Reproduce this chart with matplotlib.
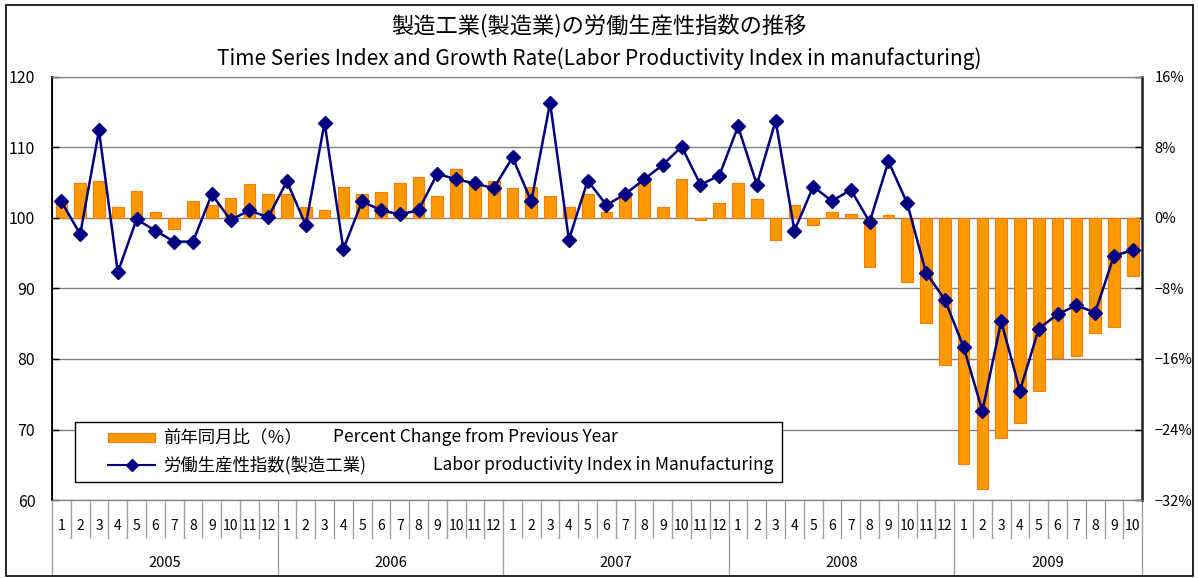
import numpy as np
import matplotlib
matplotlib.use('Agg')
import matplotlib.pyplot as plt
import matplotlib.transforms as mtransforms
from matplotlib.patches import Rectangle

plt.rcParams['font.family'] = ['Noto Sans CJK JP', 'DejaVu Sans']

years = ['2005', '2006', '2007', '2008', '2009']
months_per_year = [12, 12, 12, 12, 10]

# labor productivity index (left axis)
index = [102.35, 97.68, 112.42, 92.29, 99.80, 98.20, 96.64, 96.64, 103.35, 99.70, 101.08, 100.09,
         105.19, 98.99, 113.51, 95.59, 102.35, 101.08, 100.51, 101.08, 106.28, 105.47, 104.90, 104.20,
         108.59, 102.35, 116.34, 96.92, 105.29, 101.83, 103.39, 105.47, 107.55, 110.11, 104.72, 106.00,
         112.98, 104.72, 113.79, 98.20, 104.44, 102.40, 104.01, 99.42, 108.02, 102.07, 92.25, 88.42,
         81.70, 72.63, 85.34, 75.52, 84.31, 86.34, 87.61, 86.58, 94.66, 95.41]

# percent change from previous year (right axis)
pct = [1.9, 4.0, 4.2, 1.3, 3.1, 0.7, -1.2, 1.9, 1.5, 2.3, 3.8, 2.7,
       2.7, 1.3, 0.9, 3.5, 2.7, 2.9, 4.0, 4.6, 2.5, 5.6, 4.0, 4.2,
       3.4, 3.5, 2.5, 1.3, 2.7, 0.7, 2.7, 4.4, 1.3, 4.4, -0.2, 1.7,
       4.0, 2.1, -2.5, 1.5, -0.8, 0.7, 0.4, -5.6, 0.3, -7.3, -11.9, -16.7,
       -27.9, -30.8, -25.0, -23.3, -19.6, -15.9, -15.7, -13.0, -12.4, -6.6]

month_labels = []
for n in months_per_year:
    month_labels += [str(m) for m in range(1, n + 1)]

x = np.arange(len(index))

fig = plt.figure(figsize=(11.98, 5.78), dpi=100)
ax2 = fig.add_axes([0.0434, 0.1349, 0.9100, 0.7320])
ax = ax2.twinx()
ax.yaxis.tick_left()
ax2.yaxis.tick_right()
ax.set_zorder(ax2.get_zorder() + 1)
ax.patch.set_visible(False)

# bars on the percent axis
ax2.bar(x, pct, width=0.62, color='#FF9900', edgecolor='#FF7A00', linewidth=0.8, zorder=2)
ax2.set_ylim(-32, 16)
ax2.set_yticks(np.arange(-32, 17, 8))
ax2.set_yticklabels([('−%d%%' % -v) if v < 0 else ('%d%%' % v) for v in range(-32, 17, 8)])
ax2.grid(axis='y', color='#808080', linewidth=1.0, zorder=0)
ax2.set_axisbelow(True)

# line on the index axis
ax.plot(x, index, color='#000080', linewidth=1.8, marker='D', markersize=7, zorder=5)
ax.set_ylim(60, 120)
ax.set_yticks(np.arange(60, 121, 10))

for a in (ax, ax2):
    a.set_xlim(-0.5, len(x) - 0.5)
    a.tick_params(axis='y', labelsize=11.5, direction='in', length=5, width=1, color='black')
    a.spines['top'].set_color('#808080')
    a.spines['bottom'].set_color('#808080')
ax.tick_params(axis='y', pad=12)
ax2.tick_params(axis='y', pad=9, labelsize=10.5)
ax.spines['left'].set_linewidth(1.3)
ax.spines['right'].set_linewidth(1.8)
ax.spines['right'].set_color('#222222')

# category ticks, month and year labels under the axis
ax2.set_xticks(np.arange(-0.5, len(x), 1.0))
ax2.set_xticklabels([])
ax2.tick_params(axis='x', direction='in', length=6, color='#808080')
ax.set_xticks([])

trans = mtransforms.blended_transform_factory(ax.transData, ax.transAxes)
year_edges = np.concatenate([[0], np.cumsum(months_per_year)]) - 0.5
for b in np.arange(-0.5, len(x), 1.0):
    bottom = -0.177 if np.any(np.isclose(b, year_edges)) else -0.09
    ax.plot([b, b], [0, bottom], color='#A0A0A0', linewidth=1, transform=trans, clip_on=False)
for i, lab in enumerate(month_labels):
    ax.text(i, -0.062, lab, transform=trans, ha='center', va='center', fontsize=10)
for k, yr in enumerate(years):
    ax.text((year_edges[k] + year_edges[k + 1]) / 2, -0.149, yr, transform=trans,
            ha='center', va='center', fontsize=10.5)

# titles
fig.text(0.5, 0.955, '製造工業(製造業)の労働生産性指数の推移', ha='center', va='center', fontsize=16)
fig.text(0.5, 0.899, 'Time Series Index and Growth Rate(Labor Productivity Index in manufacturing)',
         ha='center', va='center', fontsize=15)

# legend box drawn by hand
T = ax.transAxes
ax.add_patch(Rectangle((0.0211, 0.0426), 0.6486, 0.1418, transform=T, facecolor='white',
                       edgecolor='black', linewidth=1.0, zorder=8))
ax.add_patch(Rectangle((0.0514, 0.1360), 0.0431, 0.0236, transform=T, facecolor='#FF9900',
                       edgecolor='#FF7A00', linewidth=0.8, zorder=9))
ax.plot([0.0514, 0.0945], [0.0827, 0.0827], transform=T, color='#000080', linewidth=1.5, zorder=9)
ax.plot([0.0730], [0.0827], transform=T, color='#000080', marker='D', markersize=6, zorder=9)
ax.text(0.1018, 0.1478, '前年同月比（％）', transform=T, ha='left', va='center', fontsize=12.5, zorder=9)
ax.text(0.2578, 0.1478, 'Percent Change from Previous Year', transform=T, ha='left', va='center',
        fontsize=12.5, zorder=9)
ax.text(0.1018, 0.0827, '労働生産性指数(製造工業)', transform=T, ha='left', va='center', fontsize=12.5, zorder=9)
ax.text(0.3495, 0.0827, 'Labor productivity Index in Manufacturing', transform=T, ha='left', va='center',
        fontsize=12.5, zorder=9)

# outer border
fig.patches.append(Rectangle((0.005, 0.004), 0.991, 0.987, transform=fig.transFigure,
                             fill=False, edgecolor='black', linewidth=1.2))

fig.savefig('out.png', dpi=100)
